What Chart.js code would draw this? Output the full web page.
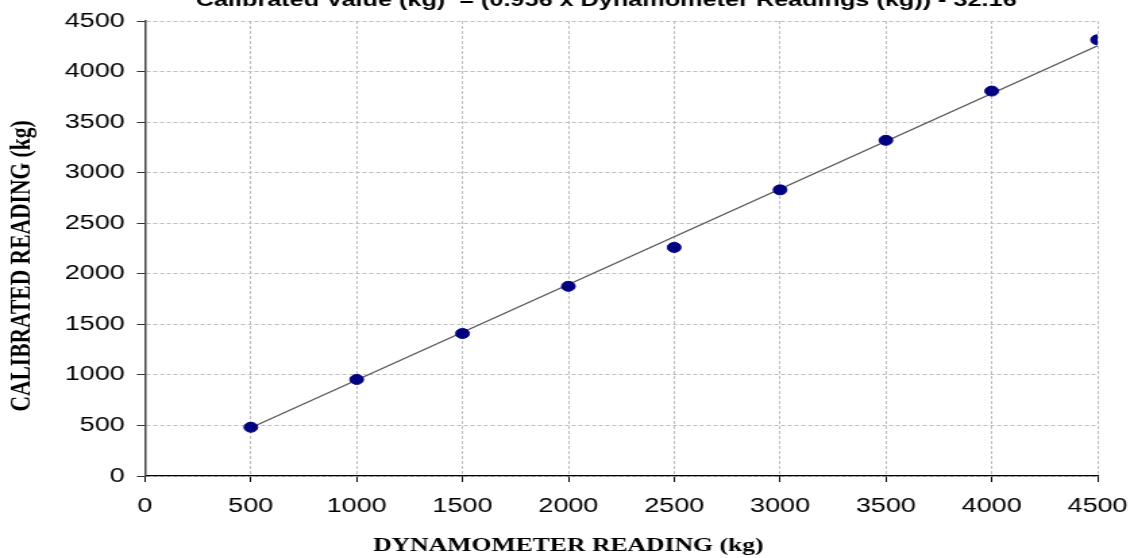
<!DOCTYPE html>
<html>
<head>
<meta charset="utf-8">
<script src="https://cdn.jsdelivr.net/npm/chart.js@4/dist/chart.umd.min.js"></script>
<style>
  html, body { margin: 0; padding: 0; background: #fff; overflow: hidden; }
  #wrap { width: 840px; height: 558px; transform: scaleX(1.35); transform-origin: 0 0; }
</style>
</head>
<body>
<div id="wrap"><canvas id="c" width="840" height="558" style="width:840px;height:558px"></canvas></div>
<script>
const titleText = "Calibrated Value (kg)  = (0.956 x Dynamometer Readings (kg)) - 32.16";
const xTitle = "DYNAMOMETER READING (kg)";
const yTitle = "CALIBRATED READING (kg)";
const dynamometer = [500, 1000, 1500, 2000, 2500, 3000, 3500, 4000, 4500];
const calibrated = [482, 955, 1409, 1876, 2261, 2830, 3320, 3807, 4314];
const trendX = [500, 4500];
const trendY = [478, 4255];
const axisMin = 0, axisMax = 4500, axisStep = 500;

const textPlugin = {
  id: 'textPlugin',
  afterDraw(chart) {
    const ctx = chart.ctx;
    ctx.save();
    ctx.fillStyle = '#000';
    ctx.textAlign = 'center';
    ctx.textBaseline = 'alphabetic';
    ctx.font = 'bold 18.7px "Liberation Sans", Arial, sans-serif';
    ctx.fillText(titleText, 449, 6);
    ctx.font = 'bold 19px "Liberation Serif", "Times New Roman", serif';
    ctx.textBaseline = 'middle';
    ctx.fillText(xTitle, 421, 546);
    ctx.translate(16.5, 266);
    ctx.rotate(-Math.PI / 2);
    ctx.font = 'bold 21.5px "Liberation Serif", "Times New Roman", serif';
    ctx.fillText(yTitle, 0, 0);
    ctx.restore();
  }
};

const tickFont = { family: '"Liberation Sans", Arial, sans-serif', size: 20 };

new Chart(document.getElementById('c'), {
  type: 'scatter',
  data: {
    datasets: [
      {
        type: 'line',
        data: trendX.map((x, i) => ({ x: x, y: trendY[i] })),
        borderColor: '#555555',
        borderWidth: 1.2,
        pointRadius: 0,
        fill: false,
        order: 2
      },
      {
        data: dynamometer.map((x, i) => ({ x: x, y: calibrated[i] })),
        backgroundColor: '#000080',
        borderColor: '#000080',
        pointRadius: 5,
        pointHoverRadius: 5,
        order: 1
      }
    ]
  },
  options: {
    responsive: false,
    animation: false,
    layout: { padding: { top: 20, right: 0, left: 0, bottom: 0 } },
    plugins: { legend: { display: false }, tooltip: { enabled: false }, title: { display: false } },
    scales: {
      x: {
        type: 'linear', min: axisMin, max: axisMax,
        afterFit(scale) { scale.height = 82; scale.paddingRight = 27; },
        ticks: { stepSize: axisStep, color: '#000', font: tickFont, padding: 12, maxRotation: 0,
                 callback: v => String(v) },
        grid: { color: '#bdbdbd', lineWidth: 1, tickLength: 6, tickColor: '#000', tickWidth: 1 },
        border: { color: '#000', width: 1.2, dash: [3, 2] },
        title: { display: false }
      },
      y: {
        type: 'linear', min: axisMin, max: axisMax,
        afterFit(scale) { scale.width = 107.4; },
        ticks: { stepSize: axisStep, color: '#000', font: tickFont, padding: 9,
                 callback: v => String(v) },
        grid: { color: '#bdbdbd', lineWidth: 1, tickLength: 6, tickColor: '#333', tickWidth: 1 },
        border: { color: '#444', width: 1.5, dash: [3, 2] },
        title: { display: false }
      }
    }
  },
  plugins: [textPlugin]
});
</script>
</body>
</html>
